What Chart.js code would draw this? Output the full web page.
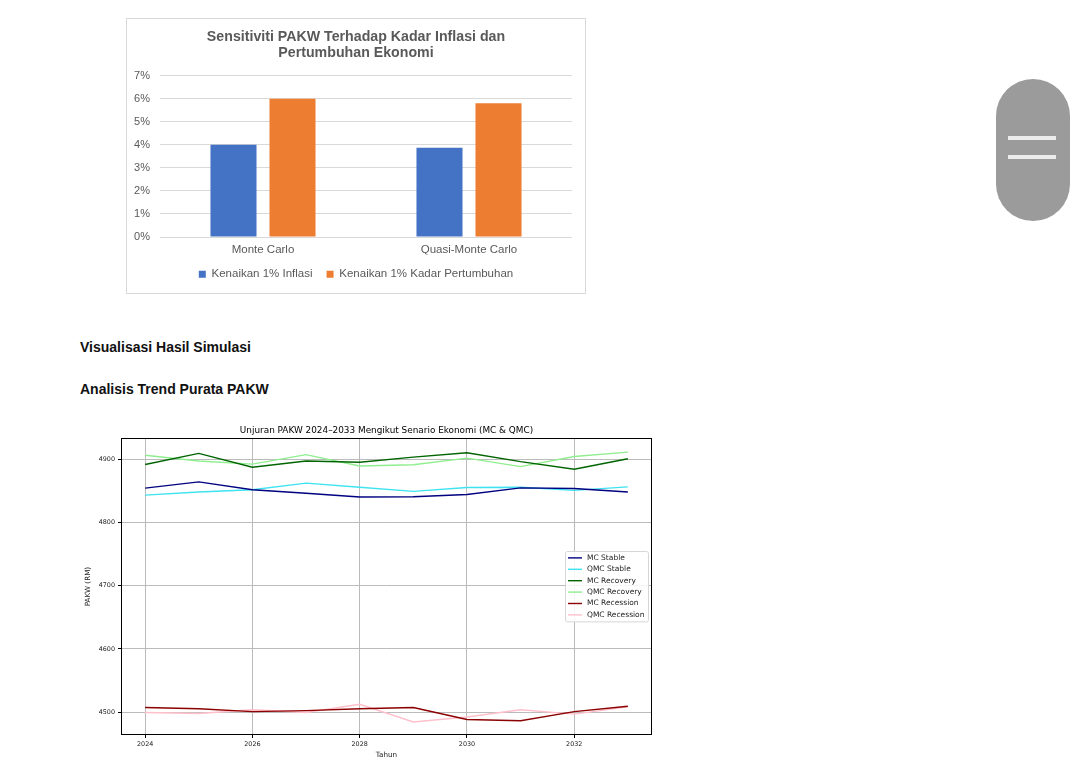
<!DOCTYPE html>
<html>
<head>
<meta charset="utf-8">
<script src="https://cdn.jsdelivr.net/npm/chart.js@4.4.0/dist/chart.umd.min.js"></script>
<style>
  body { margin: 0; width: 1080px; height: 761px; background: #fff; position: relative; overflow: hidden; font-family: "Liberation Sans", Arial, sans-serif; }
  #box1 { position: absolute; left: 126px; top: 18px; width: 458px; height: 274px; border: 1px solid #d9d9d9; }
  #box2 { position: absolute; left: 80px; top: 420px; width: 613px; height: 341px; }
  .heading { position: absolute; left: 80px; margin: 0; font-size: 14px; font-weight: bold; color: #111; }
  .pill { position: absolute; left: 996px; top: 79px; width: 74px; height: 142px; border-radius: 37px; background: #9b9b9b; }
  .pill span { position: absolute; left: 12px; width: 48px; height: 4px; background: #ececec; }
</style>
</head>
<body>
<div id="box1"><canvas id="sensChart" width="458" height="274"></canvas></div>
<h3 class="heading" style="top:339px">Visualisasi Hasil Simulasi</h3>
<h3 class="heading" style="top:381px">Analisis Trend Purata PAKW</h3>
<div id="box2"><canvas id="trendChart" width="613" height="341"></canvas></div>
<div class="pill"><span style="top:57px"></span><span style="top:76px"></span></div>

<script>
// chart 1 - sensitiviti
const sensCategories = ["Monte Carlo", "Quasi-Monte Carlo"];
const inflasiUp = [4.0, 3.87];
const pertumbuhanUp = [6.0, 5.8];
const pctTicks = [0, 1, 2, 3, 4, 5, 6, 7];

// chart 2 - unjuran PAKW
const years = [2024, 2025, 2026, 2027, 2028, 2029, 2030, 2031, 2032, 2033];
const mcStable = [4854, 4864, 4851.5, 4846, 4840, 4840.5, 4844, 4854.5, 4853.5, 4848];
const qmcStable = [4843, 4848, 4851.5, 4862, 4855.5, 4849, 4855, 4855.5, 4850.5, 4856];
const mcRecovery = [4891.5, 4909, 4887, 4897, 4895, 4903, 4910, 4896, 4884, 4900.5];
const qmcRecovery = [4906, 4897, 4892, 4907, 4889, 4891, 4901.5, 4888, 4904, 4911];
const mcRecession = [4507.5, 4505.5, 4501, 4502.5, 4505.5, 4507.5, 4488.5, 4486.5, 4501, 4509.5];
const qmcRecession = [4499.5, 4498, 4504, 4499.5, 4512.5, 4484.5, 4492.5, 4504, 4497, 4508.5];
const yearTicks = [2024, 2026, 2028, 2030, 2032];
const pakwTicks = [4500, 4600, 4700, 4800, 4900];

const excelGray = "#595959";

new Chart(document.getElementById("sensChart"), {
  type: "bar",
  data: {
    labels: sensCategories,
    datasets: [
      { label: "Kenaikan 1% Inflasi", data: inflasiUp, backgroundColor: "#4472c4", borderWidth: 0 },
      { label: "Kenaikan 1% Kadar Pertumbuhan", data: pertumbuhanUp, backgroundColor: "#ed7d31", borderWidth: 0 },
    ],
  },
  options: {
    responsive: false,
    animation: false,
    datasets: { bar: { categoryPercentage: 0.573, barPercentage: 0.78 } },
    layout: { padding: { left: 0, right: 0, top: 0, bottom: 3 } },
    plugins: {
      title: {
        display: true,
        text: ["Sensitiviti PAKW Terhadap Kadar Inflasi dan", "Pertumbuhan Ekonomi"],
        color: excelGray,
        font: { family: "Liberation Sans", size: 14.2, weight: "bold", lineHeight: 1.15 },
        padding: { top: 10, bottom: 14 },
      },
      legend: {
        position: "bottom",
        labels: {
          color: excelGray,
          font: { family: "Liberation Sans", size: 11.5 },
          boxWidth: 7,
          boxHeight: 7,
          padding: 14,
        },
      },
      tooltip: { enabled: false },
    },
    scales: {
      x: {
        grid: { display: false, drawTicks: false },
        border: { display: false },
        ticks: { color: excelGray, font: { family: "Liberation Sans", size: 11.5 }, padding: 6 },
        afterFit: (s) => { s.height = 17.5; },
      },
      y: {
        min: 0,
        max: 7,
        afterBuildTicks: (axis) => { axis.ticks = pctTicks.map((v) => ({ value: v })); },
        grid: { color: "#d9d9d9", drawTicks: false },
        border: { display: false },
        ticks: {
          color: excelGray,
          font: { family: "Liberation Sans", size: 11 },
          padding: 10,
          callback: (v) => v + "%",
        },
        afterFit: (s) => { s.width = 33; },
      },
      // blank right margin, keeps legend/title centred on the whole box
      yPad: {
        position: "right",
        grid: { display: false, drawTicks: false },
        border: { display: false },
        ticks: { display: false },
        afterFit: (s) => { s.width = 13; },
      },
    },
  },
});

// matplotlib-ish frame + legend inside the plot
const frameBox = {
  id: "frameBox",
  afterDraw(chart) {
    const a = chart.chartArea, ctx = chart.ctx;
    ctx.save();
    ctx.strokeStyle = "#000";
    ctx.lineWidth = 1;
    ctx.strokeRect(Math.round(a.left) + 0.5, Math.round(a.top) + 0.5, Math.round(a.width) - 1, Math.round(a.height) - 1);
    ctx.restore();
  },
};

const insideLegend = {
  id: "insideLegend",
  afterDraw(chart) {
    const ctx = chart.ctx, a = chart.chartArea;
    const sets = chart.data.datasets;
    const rowH = 11.4, w = 83, h = sets.length * rowH + 2;
    const x0 = a.right - 4 - w;
    const y0 = (a.top + a.bottom) / 2 - h / 2 - 0.5;
    ctx.save();
    ctx.fillStyle = "rgba(255,255,255,0.85)";
    ctx.strokeStyle = "#d6d6d6";
    ctx.lineWidth = 1;
    ctx.beginPath();
    ctx.roundRect(Math.round(x0) + 0.5, Math.round(y0) + 0.5, w, h, 2);
    ctx.fill();
    ctx.stroke();
    ctx.font = "7.5px 'DejaVu Sans'";
    ctx.textBaseline = "middle";
    sets.forEach((ds, i) => {
      const cy = y0 + 7 + i * rowH;
      ctx.strokeStyle = ds.borderColor;
      ctx.lineWidth = 1.4;
      ctx.beginPath();
      ctx.moveTo(x0 + 3, cy);
      ctx.lineTo(x0 + 17, cy);
      ctx.stroke();
      ctx.fillStyle = "#222";
      ctx.fillText(ds.label, x0 + 22, cy);
    });
    ctx.restore();
  },
};

function series(label, values, color) {
  return {
    label: label,
    data: years.map((yr, i) => ({ x: yr, y: values[i] })),
    borderColor: color,
    backgroundColor: color,
    borderWidth: 1.4,
    pointRadius: 0,
    tension: 0,
    fill: false,
  };
}

const mplTick = { family: "DejaVu Sans", size: 6.4 };

new Chart(document.getElementById("trendChart"), {
  type: "line",
  data: {
    datasets: [
      series("MC Stable", mcStable, "#000080"),
      series("QMC Stable", qmcStable, "#3fe3f0"),
      series("MC Recovery", mcRecovery, "#006400"),
      series("QMC Recovery", qmcRecovery, "#90ee90"),
      series("MC Recession", mcRecession, "#8b0000"),
      series("QMC Recession", qmcRecession, "#ffc0cb"),
    ],
  },
  options: {
    responsive: false,
    animation: false,
    layout: { padding: 0 },
    plugins: {
      title: {
        display: true,
        text: "Unjuran PAKW 2024–2033 Mengikut Senario Ekonomi (MC & QMC)",
        color: "#000",
        font: { family: "DejaVu Sans", size: 8.9, weight: "normal", lineHeight: 1.2 },
        padding: { top: 5, bottom: 2.5 },
      },
      legend: { display: false },
      tooltip: { enabled: false },
    },
    scales: {
      x: {
        type: "linear",
        min: 2023.55,
        max: 2033.45,
        afterBuildTicks: (axis) => { axis.ticks = yearTicks.map((v) => ({ value: v })); },
        grid: { color: "#bbbbbb", tickColor: "#000", tickLength: 3 },
        border: { display: false },
        ticks: { color: "#222", font: mplTick, padding: 3, maxRotation: 0, callback: (v) => String(v) },
        title: { display: true, text: "Tahun", color: "#222", font: { family: "DejaVu Sans", size: 7.2 }, padding: { top: 0, bottom: 2 } },
        afterFit: (s) => { s.height = 26; },
      },
      y: {
        min: 4464,
        max: 4933,
        afterBuildTicks: (axis) => { axis.ticks = pakwTicks.map((v) => ({ value: v })); },
        grid: { color: "#bbbbbb", tickColor: "#000", tickLength: 3 },
        border: { display: false },
        ticks: { color: "#222", font: mplTick, padding: 3, callback: (v) => String(v) },
        title: { display: true, text: "PAKW (RM)", color: "#222", font: { family: "DejaVu Sans", size: 7.2 }, padding: { top: 4, bottom: 0 } },
        afterFit: (s) => { s.width = 41; },
      },
      // empty right axis so the title centres over the plot like matplotlib
      yRight: {
        position: "right",
        grid: { display: false, drawTicks: false },
        border: { display: false },
        ticks: { display: false },
        afterFit: (s) => { s.width = 41; },
      },
    },
  },
  plugins: [frameBox, insideLegend],
});
</script>
</body>
</html>
